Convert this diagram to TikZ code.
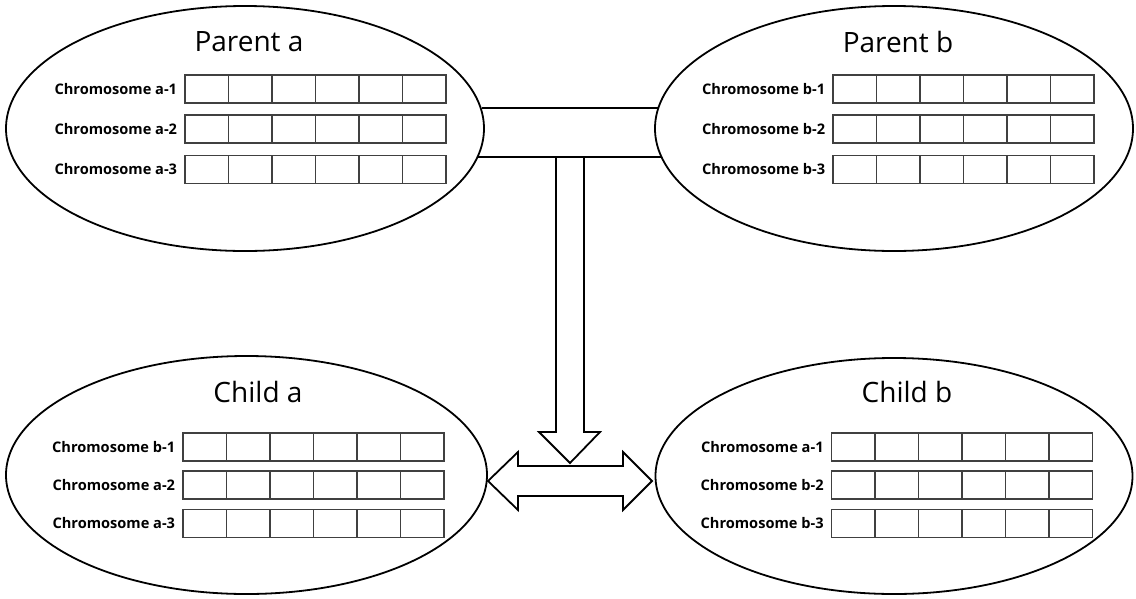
\documentclass[tikz,border=0pt]{standalone}
\usepackage{fontspec}
\setmainfont{Open Sans}
\usetikzlibrary{calc,shapes.geometric}
\definecolor{gridgray}{HTML}{404040}
\begin{document}
\begin{tikzpicture}[x=1pt,y=-1pt,
  organism/.style={ellipse,draw=black,line width=1.8pt,inner sep=0pt},
  title/.style={font=\fontsize{28}{30}\selectfont,inner sep=0pt},
  chromlabel/.style={font=\bfseries\fontsize{14.6}{16}\selectfont,inner sep=0pt},
  chrom/.style={draw=gridgray,line width=1.4pt,minimum width=261pt,minimum height=28pt,inner sep=0pt,
    label={[chromlabel,label distance=7pt]left:#1},
    path picture={
      \foreach \i in {1,...,5}
        \draw[gridgray,line width=1.4pt]
          ($(path picture bounding box.south west)!\i/6!(path picture bounding box.south east)$) --
          ($(path picture bounding box.north west)!\i/6!(path picture bounding box.north east)$);
    }},
  block/.style={draw=black,line width=1.8pt,line join=miter}]
\useasboundingbox (0,0) rectangle (1136,598);

% the four organisms
\node[organism,minimum width=478pt,minimum height=245pt] (pa) at (245,128.5) {};
\node[organism,minimum width=478pt,minimum height=245pt] (pb) at (894,128.5) {};
\node[organism,minimum width=481pt,minimum height=238pt] (ca) at (246.5,475) {};
\node[organism,minimum width=477pt,minimum height=236pt] (cb) at (894,476) {};

% titles
\node[title] (tpa) at (249,42) {Parent a};
\node[title] (tpb) at (898,42) {Parent b};
\node[title] (tca) at (258,392) {Child a};
\node[title] (tcb) at (907,392) {Child b};

% chromosomes of parent a
\node[chrom={Chromosome a-1}] (pa1) at (315.5,89) {};
\node[chrom={Chromosome a-2}] (pa2) at (315.5,129) {};
\node[chrom={Chromosome a-3}] (pa3) at (315.5,169.5) {};
% chromosomes of parent b
\node[chrom={Chromosome b-1}] (pb1) at (963.5,89) {};
\node[chrom={Chromosome b-2}] (pb2) at (963.5,129) {};
\node[chrom={Chromosome b-3}] (pb3) at (963.5,169.5) {};
% chromosomes of child a
\node[chrom={Chromosome b-1}] (ca1) at (313.5,447) {};
\node[chrom={Chromosome a-2}] (ca2) at (313.5,485) {};
\node[chrom={Chromosome a-3}] (ca3) at (313.5,523.5) {};
% chromosomes of child b
\node[chrom={Chromosome a-1}] (cb1) at (962,447) {};
\node[chrom={Chromosome b-2}] (cb2) at (962,485) {};
\node[chrom={Chromosome b-3}] (cb3) at (962,523.5) {};

% band joining the two parents
\draw[block] (pa.5) -- (pb.175);
\draw[block] (pa.-7) -- (pb.187);

% downward block arrow
\draw[block] (556,157) -- (556,432) -- (539,432) -- (570,463) -- (600,432) -- (584,432) -- (584,157);

% exchange arrow between the children
\draw[block] (488,481) -- (518,452) -- (518,466) -- (623,466) -- (623,452) -- (652,481)
  -- (623,510) -- (623,496) -- (518,496) -- (518,510) -- cycle;
\end{tikzpicture}
\end{document}
